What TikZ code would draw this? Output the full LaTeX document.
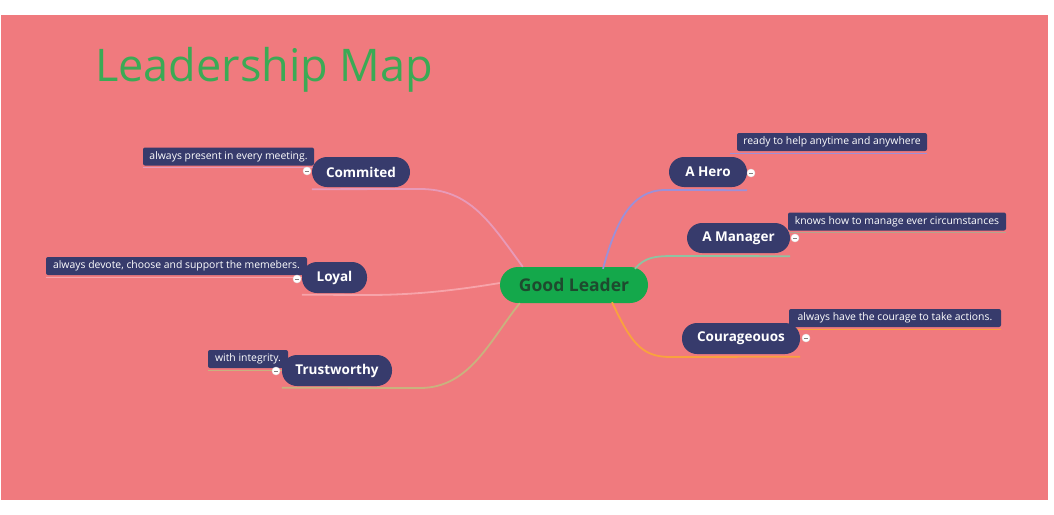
\documentclass[tikz,border=0pt]{standalone}
\usepackage{fontspec}
\setmainfont{Open Sans}
\definecolor{bgpink}{HTML}{F07A7E}
\definecolor{navy}{HTML}{373B6C}
\definecolor{centergreen}{HTML}{14A84B}
\definecolor{centertext}{HTML}{1E4A2E}
\definecolor{titlegreen}{HTML}{3BAA55}
\definecolor{cpink}{HTML}{E89AB8}
\definecolor{lpink}{HTML}{F7A4AA}
\definecolor{ctan}{HTML}{C9B27E}
\definecolor{clav}{HTML}{9C90D8}
\definecolor{cteal}{HTML}{8EC4A2}
\definecolor{corange}{HTML}{F9A23E}
\definecolor{cgray}{HTML}{B4A48E}
\begin{document}
\begin{tikzpicture}[x=1pt,y=-1pt,
  topic/.style={fill=navy, text=white, rounded corners=15pt, inner sep=0pt,
    font=\bfseries\fontsize{13.5}{15}\selectfont, minimum height=30pt},
  centre/.style={fill=centergreen, text=centertext, rounded corners=18pt, inner sep=0pt,
    font=\bfseries\fontsize{17.5}{20}\selectfont, minimum height=36pt, minimum width=148pt},
  note/.style={fill=navy, text=white, rounded corners=2pt, inner sep=0pt,
    font=\fontsize{10.4}{12}\selectfont, minimum height=18pt},
  branch/.style={line width=1.8pt},
  noteline/.style={line width=1pt},
  knob/.style={circle, fill=white, draw=white!80!gray, line width=0.4pt, inner sep=0pt, minimum size=8pt}
]
\useasboundingbox (0,0) rectangle (1054,514);
\fill[white] (0,0) rectangle (1054,514);
\fill[bgpink] (1,15) rectangle (1048,500);

\node[anchor=base west, text=titlegreen, font=\fontsize{45}{50}\selectfont, inner sep=0pt] (title) at (95,81) {Leadership Map};

% centre
\node[centre] (gl) at (574,285) {Good Leader};

% notes (behind topics)
\node[note, minimum width=171pt] (n1) at (228.5,156.5) {always present in every meeting.};
\node[note, minimum width=261pt] (n2) at (176.5,266) {always devote, choose and support the memebers.};
\node[note, minimum width=80pt] (n3) at (248,359) {with integrity.};
\node[note, minimum width=190pt] (n4) at (832,142) {ready to help anytime and anywhere};
\node[note, minimum width=218pt] (n5) at (897,221.5) {knows how to manage ever circumstances};
\node[note, minimum width=212pt] (n6) at (895,318) {always have the courage to take actions.};

\draw[noteline, cpink] ([yshift=-2pt]n1.south west) -- ([yshift=-2pt]n1.south east);
\draw[noteline, lpink] ([yshift=-2pt]n2.south west) -- ([yshift=-2pt]n2.south east);
\draw[noteline, ctan] ([yshift=-2pt]n3.south west) -- ([yshift=-2pt]n3.south east);
\draw[noteline, clav] ([xshift=-7pt,yshift=-2pt]n4.south west) -- ([yshift=-2pt]n4.south east);
\draw[noteline, cgray] ([yshift=-2pt]n5.south west) -- ([yshift=-2pt]n5.south east);
\draw[noteline, corange] ([yshift=-2pt]n6.south west) -- ([yshift=-2pt]n6.south east);

% topics
\node[topic, minimum width=98pt] (t1) at (361,172) {Commited};
\node[topic, minimum width=65pt, minimum height=31pt] (t2) at (334.5,277.5) {Loyal};
\node[topic, minimum width=110pt, minimum height=31pt] (t3) at (337,370.5) {Trustworthy};
\node[topic, minimum width=78pt] (t4) at (708,172) {A Hero};
\node[topic, minimum width=103pt] (t5) at (738.5,238) {A Manager};
\node[topic, minimum width=118pt, minimum height=31pt] (t6) at (741,338.5) {Courageouos};

% branches
\draw[branch, cpink] ([xshift=23pt]gl.north west) .. controls (490,222) and (470,189) .. (420,189) -- ([yshift=-2pt]t1.south west);
\draw[branch, lpink] ([yshift=2pt]gl.west) .. controls (440,293) and (400,295) .. (367,295) -- ([yshift=-1.5pt]t2.south west);
\draw[branch, ctan] ([xshift=20pt]gl.south west) .. controls (490,340) and (470,388) .. (420,388) -- ([yshift=-1.5pt]t3.south west);
\draw[branch, clav] ([xshift=29pt,yshift=-2pt]gl.north) .. controls (615,225) and (630,190) .. (665,190) -- ([yshift=-3pt]t4.south east);
\draw[branch, cteal] ([xshift=61pt,yshift=-2pt]gl.north) .. controls (645,257) and (655,256) .. (675,256) -- ([yshift=-3pt]t5.south east);
\draw[branch, corange] ([xshift=38pt,yshift=1pt]gl.south) .. controls (630,340) and (640,357) .. (670,357) -- ([yshift=-2.5pt]t6.south east);

% collapse knobs
\foreach \n/\p in {k1/{(307,171)}, k2/{(297,279)}, k3/{(276,371)}, k4/{(751,173)}, k5/{(795,238)}, k6/{(806,338)}}{
  \node[knob] (\n) at \p {};
  \draw[gray, line width=0.8pt] ([xshift=-2.2pt]\n.center) -- ([xshift=2.2pt]\n.center);
}
\end{tikzpicture}
\end{document}
